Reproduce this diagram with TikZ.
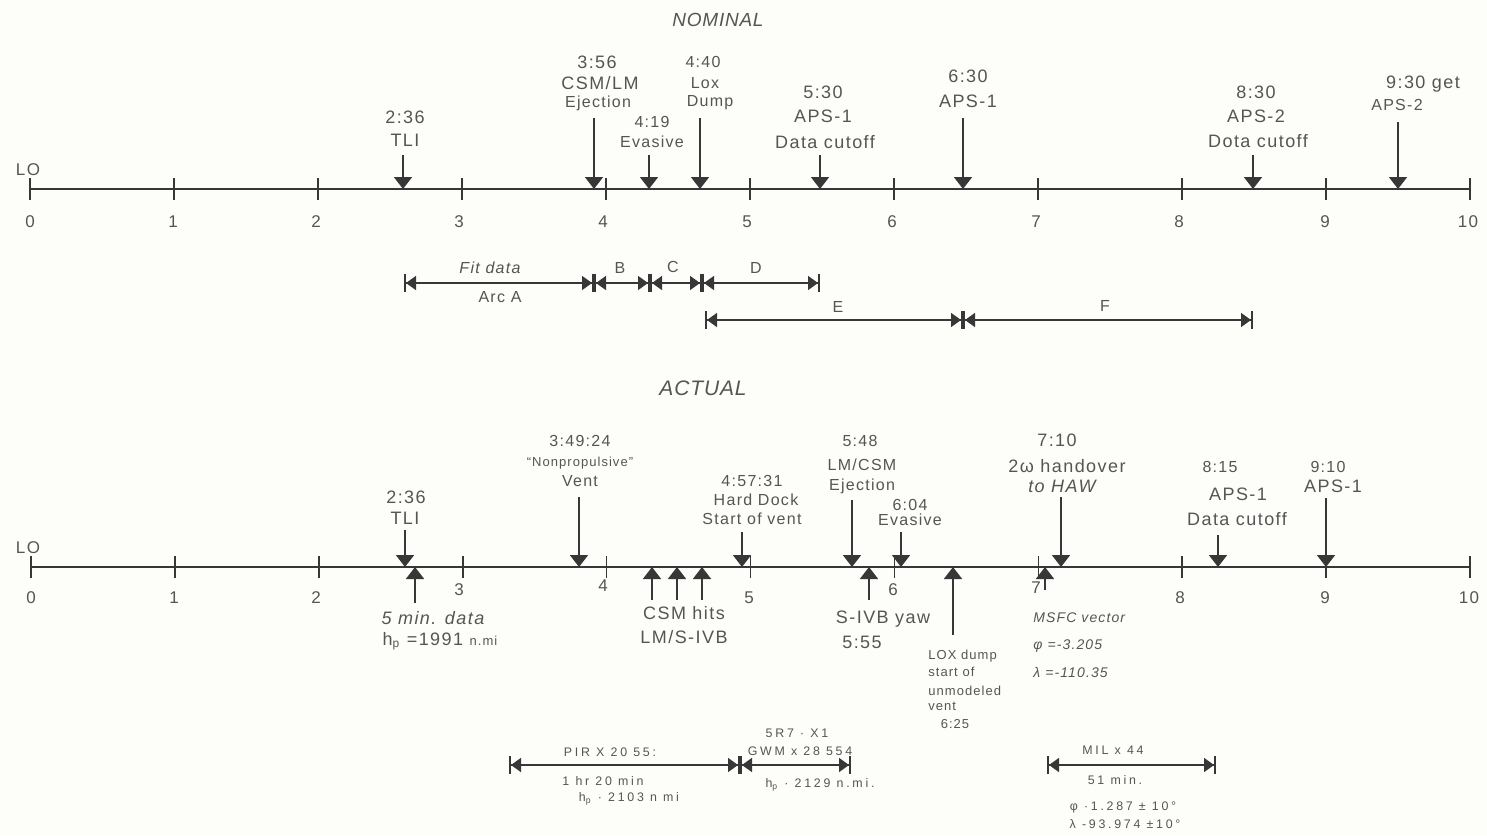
\documentclass[tikz,border=0pt]{standalone}
\usepackage{fontspec}
\setmainfont{Liberation Sans}
\newfontfamily\hand[LetterSpace=8]{Liberation Sans}
\newfontfamily\handw[LetterSpace=22]{Liberation Sans}
\newfontfamily\handt[LetterSpace=4]{Liberation Sans}
\usetikzlibrary{arrows.meta}
\definecolor{ink}{RGB}{55,55,55}
\definecolor{txt}{RGB}{85,85,85}
\definecolor{paper}{RGB}{253,253,249}
\begin{document}
\begin{tikzpicture}[x=0.5pt,y=-0.5pt,
  axisline/.style={draw=ink,line width=1pt},
  tickmark/.style={draw=ink,line width=0.8pt},
  downarr/.style={draw=ink,line width=0.9pt,-{Triangle[width=9pt,length=6pt]}},
  spanarr/.style={draw=ink,line width=0.8pt,
     {Bar[width=9pt,line width=1pt]Triangle[width=7pt,length=5pt]}-{Triangle[width=7pt,length=5pt]Bar[width=9pt,line width=1pt]}},
  lbl/.style={text=txt,inner sep=0pt,font=\hand\fontsize{9}{10}\selectfont},
  lblm/.style={text=txt,inner sep=0pt,font=\hand\fontsize{8}{9}\selectfont},
  lbls/.style={text=txt,inner sep=0pt,font=\hand\fontsize{6.5}{7}\selectfont},
  lblxs/.style={text=txt,inner sep=0pt,font=\handw\fontsize{6.2}{7}\selectfont},
  ttl/.style={text=txt,inner sep=0pt,font=\handt\itshape\fontsize{10.5}{12}\selectfont},
  num/.style={text=txt,inner sep=0pt,font=\hand\fontsize{8.5}{9}\selectfont}]
\fill[paper] (0,0) rectangle (1487,835);
\useasboundingbox (0,0) rectangle (1487,835);

% ================= NOMINAL =================
\node[ttl,font=\handt\itshape\fontsize{9.5}{11}\selectfont] (tnom) at (718,20) {NOMINAL};
\coordinate (na0) at (30,189);
\coordinate (na10) at (1470,189);
\draw[axisline] (na0) -- (na10);
\foreach \i in {0,...,10}{
  \coordinate (nt\i a) at ({30+144*\i},178);
  \coordinate (nt\i b) at ({30+144*\i},200);
  \draw[tickmark] (nt\i a) -- (nt\i b);
}
\node[num] (nlo) at (28,170) {LO};
\node[num] (nn0) at (30,222) {0};
\node[num] (nn1) at (173,222) {1};
\node[num] (nn2) at (316,222) {2};
\node[num] (nn3) at (459,222) {3};
\node[num] (nn4) at (603,222) {4};
\node[num] (nn5) at (747,222) {5};
\node[num] (nn6) at (892,222) {6};
\node[num] (nn7) at (1036,222) {7};
\node[num] (nn8) at (1179,222) {8};
\node[num] (nn9) at (1325,222) {9};
\node[num] (nn10) at (1468,222) {10};

% arrows
\coordinate (a1t) at (403,155); \coordinate (a1b) at (403,189);
\draw[downarr] (a1t) -- (a1b);
\node[lbl] (l1a) at (405,117) {2:36};
\node[lbl] (l1b) at (405,140) {TLI};

\coordinate (a2t) at (594,118); \coordinate (a2b) at (594,189);
\draw[downarr] (a2t) -- (a2b);
\node[lbl] (l2a) at (597,62) {3:56};
\node[lbl] (l2b) at (600,83) {CSM/LM};
\node[lblm] (l2c) at (598,103) {Ejection};

\coordinate (a3t) at (649,155); \coordinate (a3b) at (649,189);
\draw[downarr] (a3t) -- (a3b);
\node[lblm] (l3a) at (652,122) {4:19};
\node[lblm] (l3b) at (652,142) {Evasive};

\coordinate (a4t) at (700,118); \coordinate (a4b) at (700,189);
\draw[downarr] (a4t) -- (a4b);
\node[lblm] (l4a) at (703,62) {4:40};
\node[lblm] (l4b) at (705,83) {Lox};
\node[lblm] (l4c) at (710,103) {Dump};

\coordinate (a5t) at (820,155); \coordinate (a5b) at (820,189);
\draw[downarr] (a5t) -- (a5b);
\node[lbl] (l5a) at (823,92) {5:30};
\node[lbl] (l5b) at (823,116) {APS-1};
\node[lbl] (l5c) at (825,142) {Data cutoff};

\coordinate (a6t) at (963,118); \coordinate (a6b) at (963,189);
\draw[downarr] (a6t) -- (a6b);
\node[lbl] (l6a) at (968,76) {6:30};
\node[lbl] (l6b) at (968,101) {APS-1};

\coordinate (a7t) at (1253,155); \coordinate (a7b) at (1253,189);
\draw[downarr] (a7t) -- (a7b);
\node[lbl] (l7a) at (1256,92) {8:30};
\node[lbl] (l7b) at (1256,116) {APS-2};
\node[lbl] (l7c) at (1258,141) {Dota cutoff};

\coordinate (a8t) at (1398,122); \coordinate (a8b) at (1398,189);
\draw[downarr] (a8t) -- (a8b);
\node[lbl] (l8a) at (1423,84) {9:30 get};
\node[lblm] (l8b) at (1397,105) {APS-2};

% spans
\coordinate (s1) at (404,283); \coordinate (s2) at (594,283);
\coordinate (s3) at (650,283); \coordinate (s4) at (702,283);
\coordinate (s5) at (820,283);
\draw[spanarr] (s1) -- (s2);
\draw[spanarr] (s2) -- (s3);
\draw[spanarr] (s3) -- (s4);
\draw[spanarr] (s4) -- (s5);
\node[lblm,font=\hand\itshape\fontsize{8}{9}\selectfont] (sl1) at (490,268) {Fit data};
\node[lblm] (sl2) at (500,297) {Arc A};
\node[lblm] (sl3) at (620,268) {B};
\node[lblm] (sl4) at (673,267) {C};
\node[lblm] (sl5) at (756,268) {D};
\coordinate (s6) at (705,320); \coordinate (s7) at (963,320);
\coordinate (s8) at (1253,320);
\draw[spanarr] (s6) -- (s7);
\draw[spanarr] (s7) -- (s8);
\node[lblm] (sl6) at (838,307) {E};
\node[lblm] (sl7) at (1105,306) {F};

% ================= ACTUAL =================
\node[ttl] (tact) at (703,388) {ACTUAL};
\coordinate (aa0) at (31,567);
\coordinate (aa10) at (1470,567);
\draw[axisline] (aa0) -- (aa10);
\foreach \i in {0,...,10}{
  \coordinate (at\i a) at ({31+143.9*\i},556);
  \coordinate (at\i b) at ({31+143.9*\i},578);
  \draw[tickmark] (at\i a) -- (at\i b);
}
\node[num] (alo) at (28,548) {LO};
\node[num] (an0) at (31,598) {0};
\node[num] (an1) at (174,598) {1};
\node[num] (an2) at (316,598) {2};
\node[num] (an3) at (459,590) {3};
\node[num] (an4) at (603,586) {4};
\node[num] (an5) at (749,598) {5};
\node[num] (an6) at (893,590) {6};
\node[num] (an7) at (1036,588) {7};
\node[num] (an8) at (1180,598) {8};
\node[num] (an9) at (1325,598) {9};
\node[num] (an10) at (1469,598) {10};

% down arrows
\coordinate (b1t) at (405,530); \coordinate (b1b) at (405,567);
\draw[downarr] (b1t) -- (b1b);
\node[lbl] (m1a) at (406,497) {2:36};
\node[lbl] (m1b) at (405,518) {TLI};

\coordinate (b2t) at (579,497); \coordinate (b2b) at (579,567);
\draw[downarr] (b2t) -- (b2b);
\node[lblm] (m2a) at (580,441) {3:49:24};
\node[lbls] (m2b) at (580,463) {“Nonpropulsive”};
\node[lblm] (m2c) at (580,481) {Vent};

\coordinate (b3t) at (742,532); \coordinate (b3b) at (742,567);
\draw[downarr] (b3t) -- (b3b);
\node[lblm] (m3a) at (752,481) {4:57:31};
\node[lblm] (m3b) at (756,500) {Hard Dock};
\node[lblm] (m3c) at (752,519) {Start of vent};

\coordinate (b4t) at (852,500); \coordinate (b4b) at (852,567);
\draw[downarr] (b4t) -- (b4b);
\node[lblm] (m4a) at (860,441) {5:48};
\node[lblm] (m4b) at (862,465) {LM/CSM};
\node[lblm] (m4c) at (862,486) {Ejection};

\coordinate (b5t) at (901,532); \coordinate (b5b) at (901,567);
\draw[downarr] (b5t) -- (b5b);
\node[lblm] (m5a) at (910,505) {6:04};
\node[lblm] (m5b) at (910,520) {Evasive};

\coordinate (b6t) at (1061,497); \coordinate (b6b) at (1061,567);
\draw[downarr] (b6t) -- (b6b);
\node[lbl] (m6a) at (1057,440) {7:10};
\node[lbl] (m6b) at (1067,466) {2ω handover};
\node[lbl,font=\hand\itshape\fontsize{9}{10}\selectfont] (m6c) at (1062,486) {to HAW};

\coordinate (b7t) at (1218,535); \coordinate (b7b) at (1218,567);
\draw[downarr] (b7t) -- (b7b);
\node[lblm] (m7a) at (1220,467) {8:15};
\node[lbl] (m7b) at (1238,494) {APS-1};
\node[lbl] (m7c) at (1237,519) {Data cutoff};

\coordinate (b8t) at (1326,498); \coordinate (b8b) at (1326,567);
\draw[downarr] (b8t) -- (b8b);
\node[lblm] (m8a) at (1328,467) {9:10};
\node[lbl] (m8b) at (1333,486) {APS-1};

% up arrows
\coordinate (u1b) at (415,603); \coordinate (u1t) at (415,567);
\draw[downarr] (u1b) -- (u1t);
\node[lbl,font=\hand\itshape\fontsize{9}{10}\selectfont] (v1a) at (433,618) {5 min. data};
\node[lbl] (v1b) at (440,641) {h\textsubscript{p} =1991 {\fontsize{6.5}{7}\selectfont n.mi}};

\coordinate (u2b) at (652,600); \coordinate (u2t) at (652,567);
\draw[downarr] (u2b) -- (u2t);
\coordinate (u3b) at (677,600); \coordinate (u3t) at (677,567);
\draw[downarr] (u3b) -- (u3t);
\coordinate (u4b) at (702,600); \coordinate (u4t) at (702,567);
\draw[downarr] (u4b) -- (u4t);
\node[lbl] (v2a) at (684,613) {CSM hits};
\node[lbl] (v2b) at (684,637) {LM/S-IVB};

\coordinate (u5b) at (869,600); \coordinate (u5t) at (869,567);
\draw[downarr] (u5b) -- (u5t);
\node[lbl] (v3a) at (883,619) {S-IVB yaw};
\node[lbl] (v3b) at (862,642) {5:55};

\coordinate (u6b) at (953,635); \coordinate (u6t) at (953,567);
\draw[downarr] (u6b) -- (u6t);
\node[lbls,anchor=west] (v4a) at (928,656) {LOX dump};
\node[lbls,anchor=west] (v4b) at (928,672) {start of};
\node[lbls,anchor=west] (v4c) at (928,691) {unmodeled};
\node[lbls,anchor=west] (v4d) at (928,706) {vent};
\node[lbls] (v4e) at (955,724) {6:25};

\coordinate (u7b) at (1045,590); \coordinate (u7t) at (1045,567);
\draw[downarr] (u7b) -- (u7t);
\node[lbls,anchor=west,font=\hand\itshape\fontsize{7}{8}\selectfont] (v5a) at (1033,618) {MSFC vector};
\node[lbls,anchor=west,font=\hand\itshape\fontsize{7}{8}\selectfont] (v5b) at (1033,646) {φ =-3.205};
\node[lbls,anchor=west,font=\hand\itshape\fontsize{7}{8}\selectfont] (v5c) at (1033,672) {λ =-110.35};

% lower spans
\coordinate (p1) at (509,765); \coordinate (p2) at (740,765);
\coordinate (p3) at (851,765);
\draw[spanarr] (p1) -- (p2);
\draw[spanarr] (p2) -- (p3);
\node[lblxs] (q1) at (610,752) {PIR X 20 55:};
\node[lblxs] (q2) at (603,781) {1 hr 20 min};
\node[lblxs] (q3) at (629,799) {h\textsubscript{p} · 2103 n mi};
\node[lblxs] (q4) at (797,733) {5R7 · X1};
\node[lblxs] (q5) at (800,751) {GWM x 28 554};
\node[lblxs] (q6) at (820,785) {h\textsubscript{p} · 2129 n.mi.};

\coordinate (p4) at (1047,765); \coordinate (p5) at (1216,765);
\draw[spanarr] (p4) -- (p5);
\node[lblxs] (q7) at (1113,750) {MIL x 44};
\node[lblxs] (q8) at (1115,780) {51 min.};
\node[lblxs] (q9) at (1123,807) {φ ·1.287 ± 10°};
\node[lblxs] (q10) at (1125,824) {λ -93.974 ±10°};
\end{tikzpicture}
\end{document}
